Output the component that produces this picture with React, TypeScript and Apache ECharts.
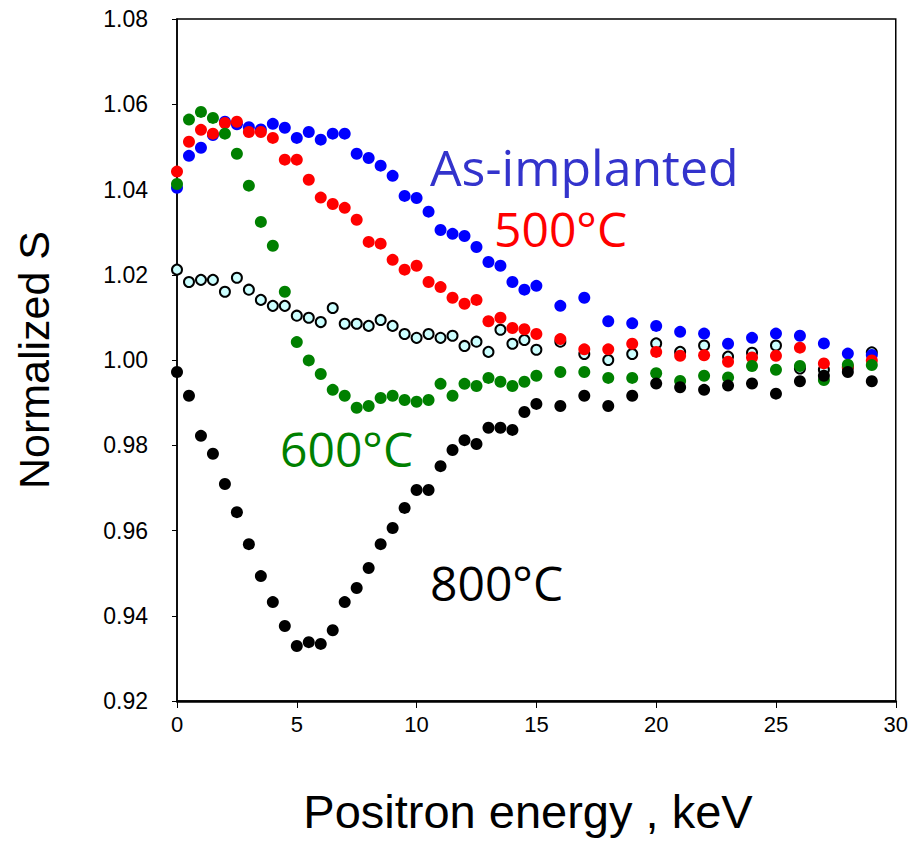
import React, { useEffect, useRef } from "react";
import * as echarts from "echarts";

const energy = [0, 0.5, 1, 1.5, 2, 2.5, 3, 3.5, 4, 4.5, 5, 5.5, 6, 6.5, 7, 7.5, 8, 8.5, 9, 9.5, 10, 10.5, 11, 11.5, 12, 12.5, 13, 13.5, 14, 14.5, 15, 16, 17, 18, 19, 20, 21, 22, 23, 24, 25, 26, 27, 28, 29];

const referenceS = [1.0212, 1.0183, 1.0188, 1.0188, 1.016, 1.0193, 1.0165, 1.0141, 1.0127, 1.0127, 1.0104, 1.0099, 1.0089, 1.0122, 1.0085, 1.0085, 1.008, 1.0094, 1.008, 1.0061, 1.0052, 1.0061, 1.0052, 1.0057, 1.0033, 1.0043, 1.0019, 1.0071, 1.0038, 1.0047, 1.0024, 1.0043, 1.0014, 1.0, 1.0014, 1.0039, 1.0019, 1.0034, 1.0008, 1.0017, 1.0034, 0.998, 0.9977, 0.9982, 1.0018];

const asImplanted = [1.0404, 1.0479, 1.0498, 1.0528, 1.0559, 1.0553, 1.0546, 1.0541, 1.0554, 1.0545, 1.0521, 1.0535, 1.0517, 1.0531, 1.0531, 1.0484, 1.0474, 1.0456, 1.0432, 1.0385, 1.038, 1.0348, 1.0305, 1.0296, 1.0291, 1.0265, 1.023, 1.0221, 1.0183, 1.0165, 1.0174, 1.0127, 1.0146, 1.0091, 1.0086, 1.008, 1.0066, 1.0062, 1.0038, 1.0052, 1.0062, 1.0057, 1.0039, 1.0015, 1.0012];

const anneal500 = [1.0442, 1.0512, 1.054, 1.0531, 1.0556, 1.0559, 1.0535, 1.0535, 1.0521, 1.047, 1.047, 1.0423, 1.0381, 1.0366, 1.0357, 1.0329, 1.0277, 1.0273, 1.0235, 1.0212, 1.0221, 1.0183, 1.0171, 1.0146, 1.0132, 1.0141, 1.0091, 1.0099, 1.0075, 1.0072, 1.0061, 1.0049, 1.0025, 1.0025, 1.0038, 1.0019, 1.001, 1.0011, 0.9996, 1.0006, 1.001, 1.0029, 0.9992, 0.9985, 0.9999];

const anneal600 = [1.0413, 1.0564, 1.0582, 1.0568, 1.0531, 1.0484, 1.0409, 1.0324, 1.0268, 1.016, 1.0042, 0.9999, 0.9967, 0.993, 0.9916, 0.9888, 0.9892, 0.9911, 0.9916, 0.9906, 0.9902, 0.9906, 0.9944, 0.9916, 0.9944, 0.9939, 0.9958, 0.9949, 0.9939, 0.9949, 0.9963, 0.9972, 0.9972, 0.9958, 0.9958, 0.9969, 0.9951, 0.9963, 0.9959, 0.9986, 0.9977, 0.9986, 0.9953, 0.9989, 0.9988];

const anneal800 = [0.9972, 0.9916, 0.9822, 0.978, 0.9709, 0.9643, 0.9568, 0.9493, 0.9432, 0.9376, 0.9329, 0.9338, 0.9334, 0.9366, 0.9432, 0.9465, 0.9512, 0.9568, 0.9606, 0.9653, 0.9695, 0.9695, 0.9751, 0.9789, 0.9812, 0.9803, 0.9841, 0.9841, 0.9836, 0.9878, 0.9897, 0.9892, 0.9916, 0.9892, 0.9916, 0.9945, 0.9936, 0.993, 0.994, 0.9945, 0.9921, 0.995, 0.9963, 0.9972, 0.995];

const xTicks = [0, 5, 10, 15, 20, 25, 30];
const yTicks = [0.92, 0.94, 0.96, 0.98, 1.0, 1.02, 1.04, 1.06, 1.08];

const zip = (ys: number[]) => energy.map((x, i) => [x, ys[i]]);

export default function App() {
  const ref = useRef<HTMLDivElement>(null);
  useEffect(() => {
    if (!ref.current) return;
    const chart = echarts.init(ref.current, null, { renderer: "svg" });
    const axisFont = "'Liberation Sans', Arial, sans-serif";
    const labelFont = "'Open Sans', 'Noto Sans', sans-serif";
    const dot = (name: string, data: number[], color: string) => ({
      name,
      type: "scatter",
      data: zip(data),
      symbol: "circle",
      symbolSize: 12,
      itemStyle: { color, borderWidth: 0, opacity: 1 },
    });
    chart.setOption({
      animation: false,
      backgroundColor: "#ffffff",
      grid: {
        left: 177,
        right: 15,
        top: 19,
        bottom: 140,
        show: true,
        borderColor: "#000",
        borderWidth: 1.5,
        backgroundColor: "transparent",
      },
      xAxis: {
        type: "value",
        min: xTicks[0],
        max: xTicks[xTicks.length - 1],
        interval: 5,
        axisLine: { show: true, onZero: false, lineStyle: { color: "#000", width: 2.5 } },
        axisTick: { show: true, inside: false, length: 7, lineStyle: { color: "#000", width: 1 } },
        axisLabel: {
          margin: 12,
          color: "#000",
          fontSize: 22,
          fontFamily: axisFont,
          formatter: (v: number) => (xTicks.includes(v) ? String(v) : ""),
        },
        splitLine: { show: false },
      },
      yAxis: {
        type: "value",
        min: yTicks[0],
        max: yTicks[yTicks.length - 1],
        interval: 0.02,
        axisLine: { show: true, onZero: false, lineStyle: { color: "#000", width: 1.5 } },
        axisTick: { show: true, inside: false, length: 5, lineStyle: { color: "#000", width: 1 } },
        axisLabel: {
          margin: 29,
          color: "#000",
          fontSize: 23,
          fontFamily: axisFont,
          formatter: (v: number) => v.toFixed(2),
        },
        splitLine: { show: false },
      },
      series: [
        {
          name: "Reference",
          type: "scatter",
          data: zip(referenceS),
          symbol: "circle",
          symbolSize: 10,
          itemStyle: { color: "#ccffff", borderColor: "#000", borderWidth: 2, opacity: 1 },
        },
        dot("As-implanted", asImplanted, "#0000ff"),
        dot("500ºC", anneal500, "#ff0000"),
        dot("600ºC", anneal600, "#008000"),
        dot("800ºC", anneal800, "#000000"),
      ],
      graphic: [
        {
          type: "text",
          x: 430,
          y: 167,
          style: { text: "As-implanted", fill: "#3333cc", font: `50px ${labelFont}`, align: "left", verticalAlign: "middle" },
        },
        {
          type: "text",
          x: 494,
          y: 228,
          style: { text: "500°C", fill: "#ff0000", font: `48px ${labelFont}`, align: "left", verticalAlign: "middle" },
        },
        {
          type: "text",
          x: 280,
          y: 448,
          style: { text: "600°C", fill: "#008000", font: `48px ${labelFont}`, align: "left", verticalAlign: "middle" },
        },
        {
          type: "text",
          x: 430,
          y: 582,
          style: { text: "800°C", fill: "#000000", font: `48px ${labelFont}`, align: "left", verticalAlign: "middle" },
        },
        {
          type: "text",
          x: 528,
          y: 811,
          style: { text: "Positron energy , keV", fill: "#000", font: `47px ${axisFont}`, align: "center", verticalAlign: "middle" },
        },
        {
          type: "text",
          x: 34,
          y: 360,
          rotation: Math.PI / 2,
          style: { text: "Normalized S", fill: "#000", font: `43px ${axisFont}`, align: "center", verticalAlign: "middle" },
        },
      ],
    });
    return () => chart.dispose();
  }, []);
  return (
    <div
      ref={ref}
      style={{ position: "fixed", left: 0, top: 0, width: 911, height: 841, background: "#fff" }}
    />
  );
}
